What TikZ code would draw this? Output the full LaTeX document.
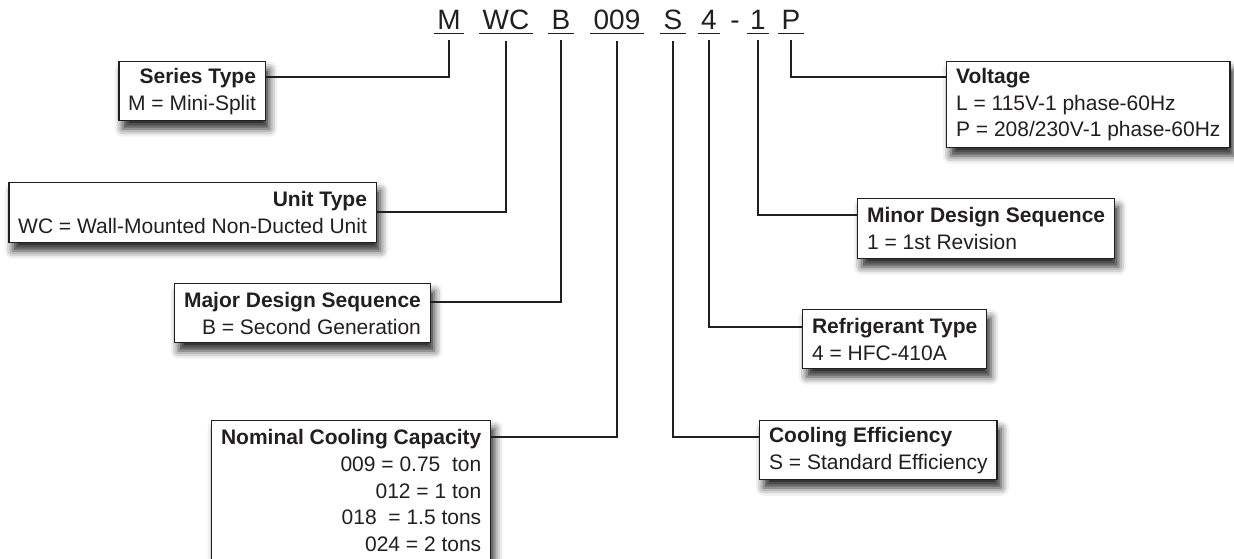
\documentclass[tikz,border=0pt]{standalone}
\usepackage{fontspec}
\setmainfont{Liberation Sans}
\usetikzlibrary{calc,shadows.blur}
\definecolor{ink}{RGB}{35,31,32}

\tikzset{
  codeletter/.style={anchor=base,inner xsep=2.5pt,inner ysep=3pt,font=\fontsize{21}{25}\selectfont,text=ink},
  infobox/.style={draw=ink,line width=1.1pt,fill=white,inner xsep=7pt,inner ysep=2pt,
    font=\fontsize{15.75}{20}\selectfont,text=ink,
    blur shadow={shadow xshift=3pt,shadow yshift=-6pt,shadow blur radius=6pt,shadow opacity=85}},
  conn/.style={draw=ink,line width=1.7pt},
  uline/.style={draw=ink,line width=1.1pt}
}

\begin{document}
\begin{tikzpicture}[x=0.75pt,y=0.75pt,yscale=-1,xscale=1]
\useasboundingbox (0,0) rectangle (1234,558);

% Model code letters
\node[codeletter] (cM) at (449,29) {M};
\node[codeletter] (cWC) at (506,29) {WC};
\node[codeletter] (cB) at (561,29) {B};
\node[codeletter] (c009) at (617,29) {009};
\node[codeletter] (cS) at (673,29) {S};
\node[codeletter] (c4) at (709,29) {4};
\node[codeletter] (cDash) at (735,29) {-};
\node[codeletter] (c1) at (758,29) {1};
\node[codeletter] (cP) at (791,29) {P};

% Underlines and line starts
\foreach \c in {cM,cWC,cB,c009,cS,c4,c1,cP}{
  \draw[uline] (\c.south west) -- (\c.south east);
  \coordinate (l\c) at ($(\c.south)+(0,7)$);
}

% Left boxes
\node[infobox,align=right,anchor=north east,minimum height=44.25pt] (series) at (266,61) {\textbf{Series Type}\\M = Mini-Split};
\node[infobox,align=right,anchor=north east,minimum height=45pt] (unit) at (377,182) {\textbf{Unit Type}\\WC = Wall-Mounted Non-Ducted Unit};
\node[infobox,align=right,anchor=north east,minimum height=44.25pt] (major) at (431,283) {\textbf{Major Design Sequence}\\B = Second Generation};
\node[infobox,align=right,anchor=north west,minimum height=105pt] (nominal) at (211,420) {\textbf{Nominal Cooling Capacity}\\009 = 0.75\ \ ton\\012 = 1 ton\\018\ \ = 1.5 tons\\024 = 2 tons};

% Right boxes
\node[infobox,align=left,anchor=north west,minimum height=64.5pt] (voltage) at (946,61) {\textbf{Voltage}\\L = 115V-1 phase-60Hz\\P = 208/230V-1 phase-60Hz};
\node[infobox,align=left,anchor=north west,minimum height=45pt] (minor) at (857,198) {\textbf{Minor Design Sequence}\\1 = 1st Revision};
\node[infobox,align=left,anchor=north west,minimum height=44.25pt] (refrig) at (802,309) {\textbf{Refrigerant Type}\\4 = HFC-410A};
\node[infobox,align=left,anchor=north west,minimum height=44.25pt] (cooling) at (759,420) {\textbf{Cooling Efficiency}\\S = Standard Efficiency};

% Connections
\draw[conn] (lcM) |- ($(series.north east)+(0,16)$);
\draw[conn] (lcWC) |- ($(unit.north east)+(0,30)$);
\draw[conn] (lcB) |- ($(major.north east)+(0,19)$);
\draw[conn] (lc009) |- ($(nominal.north east)+(0,17)$);
\draw[conn] (lcS) |- ($(cooling.north west)+(0,17)$);
\draw[conn] (lc4) |- ($(refrig.north west)+(0,18)$);
\draw[conn] (lc1) |- ($(minor.north west)+(0,17)$);
\draw[conn] (lcP) |- ($(voltage.north west)+(0,16)$);

\end{tikzpicture}
\end{document}
